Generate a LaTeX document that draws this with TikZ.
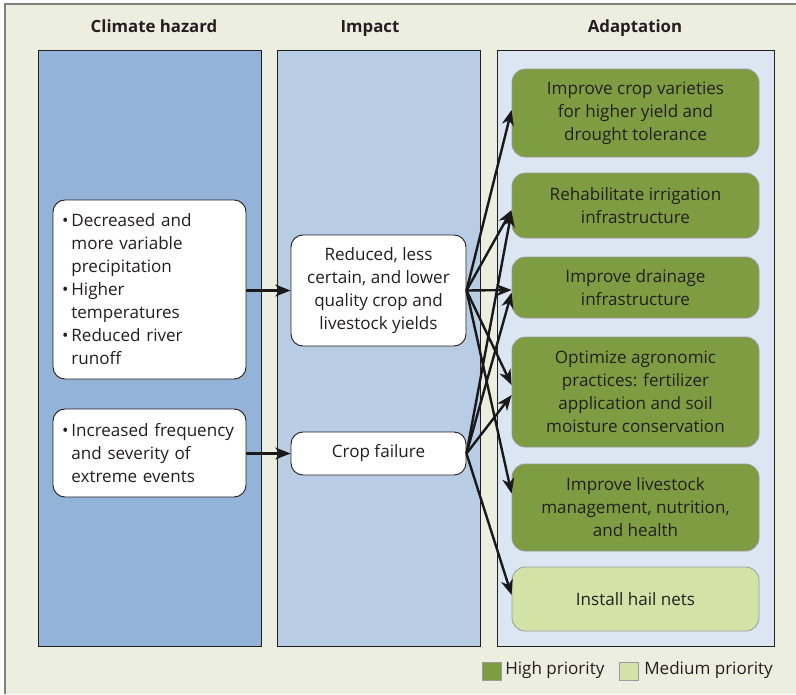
\documentclass[tikz,border=0pt]{standalone}
\usepackage{fontspec}
\setmainfont{Open Sans}
\usetikzlibrary{arrows.meta,calc}
\definecolor{bgc}{HTML}{ECEFE0}
\definecolor{frame}{HTML}{7F7F7F}
\definecolor{haz}{HTML}{93B3D9}
\definecolor{imp}{HTML}{B8CCE4}
\definecolor{ada}{HTML}{DCE6F2}
\definecolor{hi}{HTML}{7E9D43}
\definecolor{med}{HTML}{D3E3A8}
\definecolor{gbord}{HTML}{9A9A9A}
\definecolor{txt}{HTML}{231F20}
\newcommand{\bl}{\makebox[0.55em][l]{\textbullet}}
\newcommand{\ii}{\hspace*{0.55em}}
\begin{document}
\begin{tikzpicture}[x=0.75pt,y=-0.75pt,
  font=\fontsize{12.8}{17.25}\selectfont, text=txt,
  panel/.style={draw=txt, line width=0.7pt, inner sep=0pt},
  head/.style={font=\fontsize{12.6}{16}\selectfont\bfseries, anchor=base},
  wbox/.style={draw=txt, fill=white, rounded corners=9pt, line width=0.7pt, inner sep=0pt},
  hbox/.style={wbox, align=left, inner xsep=6.75pt, text width=131.25pt, minimum width=144.75pt},
  ibox/.style={wbox, align=center, minimum width=131.25pt},
  abox/.style={draw=gbord, fill=hi, rounded corners=10pt, line width=0.6pt, align=center, minimum width=185.25pt, inner sep=0pt},
  legsq/.style={draw=gbord, line width=0.6pt, minimum width=14.25pt, minimum height=13.5pt, inner sep=0pt},
  arr/.style={-{Stealth[length=11.5pt,width=9pt,inset=3.5pt]}, line width=1.8pt, draw=black!90}
]
\useasboundingbox (0,0) rectangle (796,694);
\fill[white] (0,0) rectangle (796,694);
\fill[bgc] (5,4) rectangle (796,694);
\draw[frame, line width=1.5pt] (5,694) -- (5,4) -- (796,4);

% headers
\node[head] (h1) at (154,32) {Climate hazard};
\node[head] (h2) at (370,32) {Impact};
\node[head] (h3) at (635,32) {Adaptation};

% panels
\node[panel, fill=haz, minimum width=167.25pt, minimum height=447pt] (P1) at (149.5,348) {};
\node[panel, fill=imp, minimum width=152.25pt, minimum height=447pt] (P2) at (378.5,348) {};
\node[panel, fill=ada, minimum width=207.75pt, minimum height=447pt] (P3) at (635.5,348) {};

% hazard boxes
\node[hbox, minimum height=134.25pt] (H1) at (149.5,289.5) {\bl Decreased and\\\ii more variable\\\ii precipitation\\\bl Higher\\\ii temperatures\\\bl Reduced river\\\ii runoff};
\node[hbox, minimum height=66pt] (H2) at (149.5,453) {\bl Increased frequency\\\ii and severity of\\\ii extreme events};

% impact boxes
\node[ibox, minimum height=83.25pt] (I1) at (378.5,290.5) {Reduced, less\\certain, and lower\\quality crop and\\livestock yields};
\node[ibox, minimum height=32.25pt] (I2) at (378.5,453.5) {Crop failure};

% adaptation boxes
\node[abox, minimum height=66pt] (A1) at (635.5,113) {Improve crop varieties\\for higher yield and\\drought tolerance};
\node[abox, minimum height=48.75pt] (A2) at (635.5,205.5) {Rehabilitate irrigation\\infrastructure};
\node[abox, minimum height=45.75pt] (A3) at (635.5,287.5) {Improve drainage\\infrastructure};
\node[abox, minimum height=82.5pt] (A4) at (635.5,392) {Optimize agronomic\\practices: fertilizer\\application and soil\\moisture conservation};
\node[abox, minimum height=65.25pt] (A5) at (635.5,507.5) {Improve livestock\\management, nutrition,\\and health};
\node[abox, fill=med, minimum height=48pt] (A6) at (635.5,599) {Install hail nets};

% arrows hazard -> impact
\draw[arr] (H1.east |- I1.east) -- (I1.west);
\draw[arr] (H2.east |- I2.east) -- (I2.west);

% arrows impact -> adaptation
\draw[arr] (I1.east) -- ($(A1.west)+(0,-3)$);
\draw[arr] (I1.east) -- ($(A2.west)+(0,4.5)$);
\draw[arr] (I1.east) -- ($(A3.west)+(0,2.5)$);
\draw[arr] (I1.east) -- ($(A4.west)+(0,-7)$);
\draw[arr] (I1.east) -- ($(A5.west)+(0,-14)$);
\draw[arr] (I2.east) -- ($(A2.west)+(0,6)$);
\draw[arr] (I2.east) -- ($(A3.west)+(0,5)$);
\draw[arr] (I2.east) -- ($(A4.west)+(0,3)$);
\draw[arr] (I2.east) -- ($(A6.west)+(0,-4)$);

% legend
\node[legsq, fill=hi] (L1) at (491.5,671) {};
\node[anchor=west, inner sep=0pt] (L1t) at (505,670) {High priority};
\node[legsq, fill=med] (L2) at (628.5,671) {};
\node[anchor=west, inner sep=0pt] (L2t) at (644,670) {Medium priority};
\end{tikzpicture}
\end{document}
